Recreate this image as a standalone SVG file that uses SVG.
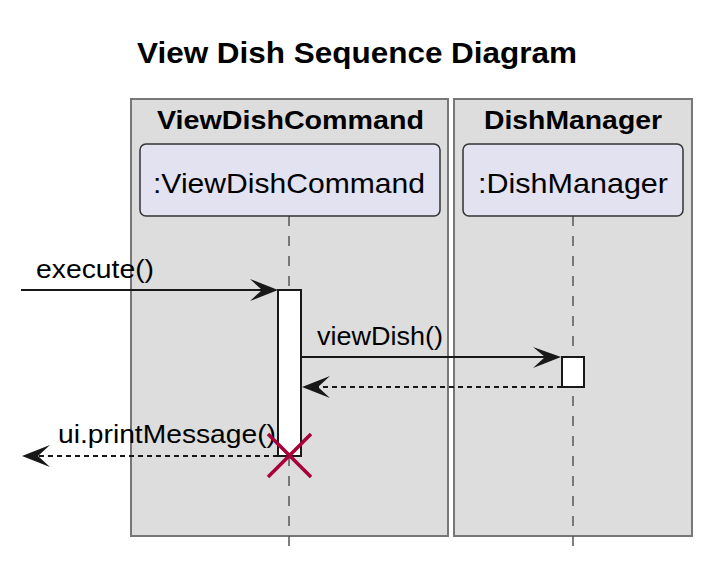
<svg xmlns="http://www.w3.org/2000/svg" width="724" height="568" viewBox="0 0 724 568">
<defs>
<style>
text{font-family:"Liberation Sans",Arial,sans-serif;fill:#000}
.title{font-size:29px;font-weight:bold}
.boxt{font-size:26px;font-weight:bold}
.part{font-size:28px}
.msg{font-size:26px}
.box{fill:#dddddd;stroke:#777;stroke-width:2}
.pbox{fill:#e2e2f0;stroke:#333;stroke-width:1.5}
.life{stroke:#555;stroke-width:1.5;stroke-dasharray:10,10;fill:none}
.act{fill:#fff;stroke:#181818;stroke-width:2}
.line{stroke:#181818;stroke-width:2;fill:none}
.dash{stroke:#181818;stroke-width:2;fill:none;stroke-dasharray:5,4}
.head{fill:#181818}
.kill{stroke:#a80036;stroke-width:3.5}
</style>
</defs>
<rect width="724" height="568" fill="#fff"/>
<text class="title" x="137" y="63" textLength="440" lengthAdjust="spacingAndGlyphs">View Dish Sequence Diagram</text>

<g id="box-viewdishcommand">
<rect class="box" x="131" y="99" width="317" height="437"/>
<text class="boxt" x="157" y="129" textLength="267" lengthAdjust="spacingAndGlyphs">ViewDishCommand</text>
</g>
<g id="box-dishmanager">
<rect class="box" x="454" y="99" width="238" height="437"/>
<text class="boxt" x="484" y="129" textLength="178" lengthAdjust="spacingAndGlyphs">DishManager</text>
</g>

<g id="lifelines">
<line class="life" x1="289" y1="216" x2="289" y2="548"/>
<line class="life" x1="573" y1="216" x2="573" y2="548"/>
</g>

<g id="participant-viewdishcommand">
<rect class="pbox" x="140" y="144" width="300" height="72" rx="6"/>
<text class="part" x="153" y="193" textLength="272" lengthAdjust="spacingAndGlyphs">:ViewDishCommand</text>
</g>
<g id="participant-dishmanager">
<rect class="pbox" x="463" y="144" width="220" height="72" rx="6"/>
<text class="part" x="478" y="193" textLength="190" lengthAdjust="spacingAndGlyphs">:DishManager</text>
</g>

<g id="activation-viewdishcommand">
<rect class="act" x="278" y="290" width="23" height="166"/>
</g>
<g id="activation-dishmanager">
<rect class="act" x="562" y="357" width="22" height="30"/>
</g>

<g id="connectors">
<line class="line" x1="21" y1="290" x2="270" y2="290"/>
<polygon class="head" points="278,290 250,279 262,290 250,301"/>
<text class="msg" x="36" y="278" textLength="118" lengthAdjust="spacingAndGlyphs">execute()</text>

<line class="line" x1="301" y1="357" x2="552" y2="357"/>
<polygon class="head" points="561,357 533,347 545,357 533,368"/>
<text class="msg" x="317" y="345" textLength="126" lengthAdjust="spacingAndGlyphs">viewDish()</text>

<line class="dash" x1="562" y1="387" x2="310" y2="387"/>
<polygon class="head" points="302,387 330,376 318,387 330,398"/>

<line class="dash" x1="278" y1="456" x2="30" y2="456"/>
<polygon class="head" points="22,456 50,445 38,456 50,467"/>
<text class="msg" x="58" y="443" textLength="218" lengthAdjust="spacingAndGlyphs">ui.printMessage()</text>
</g>

<g id="destroy">
<line class="kill" x1="268" y1="434" x2="311" y2="477"/>
<line class="kill" x1="311" y1="434" x2="268" y2="477"/>
</g>
</svg>
